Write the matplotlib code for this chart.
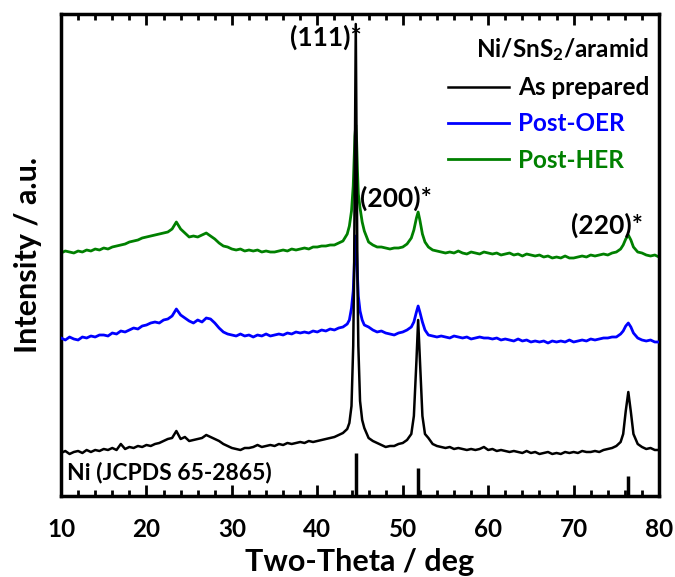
import matplotlib.pyplot as plt

plt.rcParams['font.family'] = ['Lato', 'DejaVu Sans']
plt.rcParams['font.weight'] = 'bold'
plt.rcParams['mathtext.default'] = 'regular'

# Two-theta positions (deg)
two_theta = [
    10.0, 10.5, 11.0, 11.5, 12.0, 12.5, 13.0, 13.5, 14.0, 14.5, 15.0, 15.5, 16.0, 16.5,
    17.0, 17.5, 18.0, 18.5, 19.0, 19.5, 20.0, 20.5, 21.0, 21.5, 22.0, 22.5, 23.0, 23.5,
    24.0, 24.5, 25.0, 25.5, 26.0, 26.5, 27.0, 27.5, 28.0, 28.5, 29.0, 29.5, 30.0, 30.5,
    31.0, 31.5, 32.0, 32.5, 33.0, 33.5, 34.0, 34.5, 35.0, 35.5, 36.0, 36.5, 37.0, 37.5,
    38.0, 38.5, 39.0, 39.5, 40.0, 40.5, 41.0, 41.5, 42.0, 42.5, 43.0,
    43.5, 43.75, 44.0, 44.2, 44.3, 44.4, 44.5, 44.6, 44.7, 44.8, 45.0, 45.25, 45.5,
    46.0, 46.5, 47.0, 47.5, 48.0, 48.5, 49.0, 49.5, 50.0, 50.5, 51.0,
    51.3, 51.6, 51.8, 52.0, 52.3, 52.6,
    53.0, 53.5, 54.0, 54.5, 55.0, 55.5, 56.0, 56.5, 57.0, 57.5, 58.0, 58.5, 59.0, 59.5,
    60.0, 60.5, 61.0, 61.5, 62.0, 62.5, 63.0, 63.5, 64.0, 64.5, 65.0, 65.5, 66.0, 66.5,
    67.0, 67.5, 68.0, 68.5, 69.0, 69.5, 70.0, 70.5, 71.0, 71.5, 72.0, 72.5, 73.0, 73.5,
    74.0, 74.5, 75.0, 75.5,
    75.8, 76.1, 76.4, 76.7, 77.0, 77.5,
    78.0, 78.5, 79.0, 79.5, 80.0,
]

# Intensities (a.u., curves already offset)
as_prepared = [
    43, 45, 42, 44, 45, 43, 46, 44, 46, 45, 47, 46, 48, 46,
    52, 47, 49, 48, 50, 49, 51, 50, 52, 53, 55, 57, 58, 65,
    57, 59, 55, 56, 57, 58, 61, 59, 57, 55, 52, 50, 48, 47,
    46, 48, 48, 49, 51, 49, 50, 51, 50, 52, 51, 53, 52, 53,
    54, 53, 55, 54, 55, 56, 57, 58, 59, 61, 63,
    67, 73, 90, 150, 220, 350, 472, 350, 215, 150, 95, 76, 68,
    58, 55, 53, 51, 49, 50, 50, 52, 53, 56, 62,
    80, 135, 176, 138, 80, 62,
    58, 52, 50, 49, 48, 49, 47, 48, 47, 46, 47, 46, 47, 49,
    46, 47, 45, 46, 45, 44, 45, 44, 43, 45, 43, 44, 42, 43,
    44, 42, 43, 42, 44, 43, 44, 43, 45, 44, 44, 45, 44, 46,
    47, 48, 50, 54,
    62, 85, 104, 84, 62, 52,
    49, 47, 48, 46, 46,
]
post_oer = [
    158, 156, 159, 157, 156, 159, 158, 160, 159, 161, 161, 160, 163, 162,
    165, 164, 166, 168, 167, 170, 171, 173, 174, 173, 176, 177, 180, 187,
    181, 178, 175, 173, 176, 174, 178, 177, 173, 168, 164, 162, 161, 160,
    162, 160, 161, 159, 161, 160, 162, 160, 161, 162, 161, 163, 162, 164,
    163, 164, 163, 165, 164, 166, 165, 167, 166, 168, 169,
    172, 176, 188, 205, 225, 248, 260, 245, 220, 200, 185, 176, 171,
    169, 166, 164, 165, 163, 162, 161, 163, 164, 166, 169,
    174, 184, 190, 184, 174, 166,
    161, 160, 159, 160, 159, 158, 160, 159, 158, 159, 157, 158, 159, 158,
    158, 157, 158, 156, 157, 156, 155, 157, 155, 156, 154, 155, 154, 155,
    153, 155, 154, 155, 154, 156, 154, 155, 156, 155, 157, 156, 157, 158,
    158, 159, 159, 162,
    165, 170, 173, 169, 163, 158,
    156, 155, 156, 154, 154,
]
post_her = [
    243, 245, 244, 243, 245, 244, 246, 245, 247, 246, 248, 247, 249, 250,
    251, 252, 254, 255, 256, 258, 259, 260, 261, 262, 263, 264, 267, 274,
    267, 263, 259, 260, 259, 261, 263, 260, 257, 253, 250, 249, 247, 246,
    247, 245, 246, 245, 246, 244, 245, 244, 244, 245, 246, 245, 247, 246,
    247, 248, 247, 249, 249, 250, 250, 251, 251, 253, 255,
    262, 270, 285, 310, 335, 360, 371, 355, 325, 302, 288, 274, 265,
    254, 251, 249, 249, 248, 247, 248, 248, 249, 252, 258,
    266, 278, 284, 276, 262, 254,
    249, 246, 245, 244, 243, 244, 243, 245, 243, 242, 244, 243, 242, 244,
    243, 242, 243, 241, 242, 243, 241, 242, 240, 242, 241, 240, 241, 239,
    240, 238, 239, 238, 240, 238, 238, 239, 240, 239, 241, 240, 241, 242,
    241, 243, 244, 247,
    251, 257, 261, 256, 249, 244,
    243, 241, 240, 241, 239,
]

# Ni reference lines (JCPDS 65-2865)
ni_ref_pos = [44.5, 51.8, 76.4]
ni_ref_height = [43, 28, 20]

peak_labels = ['(111)*', '(200)*', '(220)*']

fig = plt.figure(figsize=(6.75, 5.77), dpi=100)
ax = fig.add_axes([0.0904, 0.1404, 0.886, 0.8353])

ax.plot(two_theta, post_her, color='#008000', lw=2.0, label='Post-HER', zorder=2)
ax.plot(two_theta, post_oer, color='#0000FF', lw=2.0, label='Post-OER', zorder=3)
ax.plot(two_theta, as_prepared, color='black', lw=1.8, label='As prepared', zorder=4)
ax.vlines(ni_ref_pos, 0, ni_ref_height, color='black', lw=2.5)

ax.text(41.0, 459, peak_labels[0], ha='center', va='center', fontsize=19, fontweight='bold')
ax.text(49.2, 298, peak_labels[1], ha='center', va='center', fontsize=19, fontweight='bold')
ax.text(73.9, 271, peak_labels[2], ha='center', va='center', fontsize=19, fontweight='bold')
ax.text(10.7, 23, 'Ni (JCPDS 65-2865)', ha='left', va='center', fontsize=16.5, fontweight='bold')

h, l = ax.get_legend_handles_labels()
leg = ax.legend(h[::-1], l[::-1], loc='upper right', bbox_to_anchor=(1.012, 0.99),
                frameon=False, title='Ni/SnS$_2$/aramid', alignment='right',
                labelcolor='linecolor', handlelength=2.5, handletextpad=0.37,
                labelspacing=0.55, borderpad=0.2,
                prop={'size': 17.5, 'weight': 'bold'},
                title_fontproperties={'size': 17.5, 'weight': 'bold'})

ax.set_xlim(10, 80)
ax.set_ylim(0, 482)
ax.set_xticks([10, 20, 30, 40, 50, 60, 70, 80])
ax.set_xticks(range(12, 80, 2), minor=True)
ax.set_yticks([])
ax.tick_params(axis='x', which='both', direction='in', top=True, width=2, labelsize=17.5, pad=16)
ax.tick_params(axis='x', which='major', length=8)
ax.tick_params(axis='x', which='minor', length=4)
for s in ax.spines.values():
    s.set_linewidth(2.5)

ax.set_xlabel('Two-Theta / deg', fontsize=22, fontweight='bold', labelpad=5)
ax.set_ylabel('Intensity / a.u.', fontsize=22, fontweight='bold', labelpad=14)

fig.savefig('out.png', dpi=100)
